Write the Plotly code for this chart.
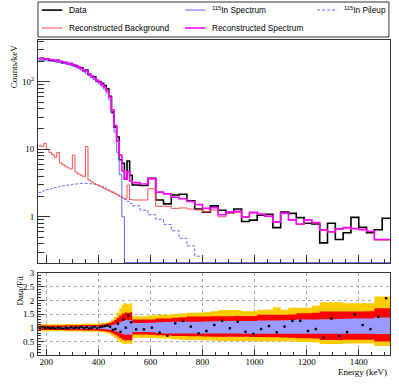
import plotly.graph_objects as go

# bin edges (keV): 10 keV bins below 530, 30 keV bins above
EDGES = [170, 180, 190, 200, 210, 220, 230, 240, 250, 260, 270, 280, 290, 300, 310,
         320, 330, 340, 350, 360, 370, 380, 390, 400, 410, 420, 430, 440, 450, 460,
         470, 480, 490, 500, 510, 520, 530,
         560, 590, 620, 650, 680, 710, 740, 770, 800, 830, 860, 890, 920, 950, 980,
         1010, 1040, 1070, 1100, 1130, 1160, 1190, 1220, 1250, 1280, 1310, 1340, 1370,
         1400, 1430, 1460, 1490, 1520]

DATA = [222, 224, 218, 218, 210, 211, 202, 209, 197, 190, 193, 184, 187, 179, 174,
        165, 162, 145, 149, 127, 122, 119, 103, 101, 95, 88, 79, 61, 35.5, 21.3,
        15.2, 7.0, 6.2, 3.64, 6.7, 4.1,
        2.95, 2.9, 3.7, 1.77, 1.55, 2.1, 2.15, 1.72, 1.3, 1.17, 1.45, 1.25, 1.15, 1.3,
        0.85, 0.89, 1.05, 1.09, 0.69, 1.17, 1.12, 0.97, 0.8, 0.78, 0.41, 0.8, 0.46,
        0.58, 0.98, 0.7, 0.58, 0.64, 0.95]

SPECTRUM = [208, 207, 205, 204, 202, 200, 198, 195, 192, 189, 185, 180, 175, 170, 164,
            158, 150, 141, 132, 124, 116, 108, 100, 93, 86, 78, 68, 54, 34, 18,
            9, 4.2, 1.0, 0, 0, 0,
            0, 0, 0, 0, 0, 0, 0, 0, 0, 0, 0, 0, 0, 0, 0, 0, 0, 0, 0, 0, 0, 0, 0, 0,
            0, 0, 0, 0, 0, 0, 0, 0, 0]

PILEUP = [2.3, 2.38, 2.45, 2.52, 2.58, 2.64, 2.7, 2.76, 2.81, 2.86, 2.9, 2.95, 2.99,
          3.03, 3.06, 3.09, 3.11, 3.12, 3.12, 3.1, 3.07, 3.03, 2.97, 2.9, 2.8, 2.68,
          2.56, 2.44, 2.33, 2.22, 2.11, 2.0, 1.89, 1.79, 1.69, 1.59,
          1.45, 1.25, 1.07, 0.92, 0.77, 0.62, 0.48, 0.37, 0.26, 0.15, 0.1, 0.07, 0.05,
          0.04, 0.03, 0.02, 0.02, 0.01, 0.01, 0.01, 0.01, 0.01, 0.01, 0.01, 0.01,
          0.01, 0.01, 0.01, 0.01, 0.01, 0.01, 0.01, 0.01]

BACKGROUND = [11.3, 11.0, 12.2, 10.0, 9.0, 8.3, 7.6, 9.0, 6.3, 5.9, 5.6, 5.3, 5.1,
              8.2, 4.6, 4.3, 4.1, 3.9, 11.0, 3.5, 3.3, 3.1, 3.0, 2.85, 2.75, 2.6,
              2.5, 2.4, 2.3, 2.2, 2.1, 2.0, 1.9, 1.85, 2.95, 1.8,
              1.77, 1.77, 2.6, 1.43, 1.43, 1.33, 1.35, 1.3, 1.26, 1.18, 1.26, 1.0,
              1.13, 1.16, 0.97, 1.14, 1.08, 1.01, 0.83, 1.12, 0.89, 0.77, 0.89, 0.81,
              0.63, 0.59, 0.65, 0.68, 0.66, 0.64, 0.6, 0.45, 0.45]

TOTAL = [222, 220, 220, 216, 214, 211, 208, 207, 201, 198, 193, 188, 183, 181, 172,
         165, 157, 148, 146, 131, 122, 114, 106, 99, 91.5, 83, 73, 59, 38.6, 22.4,
         13.2, 8.2, 4.8, 3.64, 4.64, 3.4,
         3.2, 3.05, 3.67, 2.32, 2.18, 1.95, 1.85, 1.68, 1.52, 1.33, 1.36, 1.07, 1.18,
         1.2, 1.0, 1.16, 1.1, 1.02, 0.84, 1.13, 0.9, 0.78, 0.9, 0.82, 0.64, 0.6,
         0.66, 0.69, 0.67, 0.65, 0.61, 0.46, 0.46]

RATIO = [1.0, 1.02, 0.99, 1.01, 0.98, 1.0, 0.97, 1.01, 0.98, 0.96, 1.0, 0.98, 1.02,
         0.99, 1.01, 1.0, 1.03, 0.98, 1.02, 0.97, 1.0, 1.04, 0.97, 1.02, 1.04, 1.06,
         1.08, 1.03, 0.92, 0.95, 1.15, 0.85, 1.3, 1.0, 1.45, 1.2,
         0.94, 0.94, 1.0, 0.82, 0.71, 1.16, 1.25, 1.04, 0.79, 0.88, 1.1, 1.25, 0.98,
         1.22, 0.85, 0.77, 0.95, 1.06, 0.83, 1.04, 1.25, 1.25, 0.88, 0.95, 0.64,
         1.34, 0.7, 0.84, 1.49, 1.1, 0.95, 1.4, 2.08]

# uncertainty bands on Data/Fit (outer yellow, red, inner blue)
YEL_HI = [1.13, 1.13, 1.13, 1.13, 1.13, 1.13, 1.13, 1.13, 1.13, 1.13, 1.14, 1.14,
          1.14, 1.14, 1.14, 1.14, 1.14, 1.15, 1.15, 1.15, 1.15, 1.15, 1.15,
          1.16, 1.17, 1.18, 1.2, 1.24, 1.3, 1.4, 1.55, 1.7, 1.85, 1.9, 1.85, 1.9,
          1.42, 1.42, 1.45, 1.47, 1.47, 1.5, 1.52, 1.55, 1.55, 1.57, 1.6, 1.65, 1.65,
          1.65, 1.6, 1.6, 1.66, 1.66, 1.75, 1.66, 1.73, 1.73, 1.73, 1.8, 1.93, 1.93,
          1.93, 1.9, 1.9, 1.9, 1.9, 2.14, 2.14]
YEL_LO = [0.87, 0.87, 0.87, 0.87, 0.87, 0.87, 0.87, 0.87, 0.87, 0.87, 0.86, 0.86,
          0.86, 0.86, 0.86, 0.86, 0.86, 0.85, 0.85, 0.85, 0.85, 0.85, 0.85,
          0.84, 0.83, 0.82, 0.8, 0.76, 0.7, 0.62, 0.54, 0.47, 0.42, 0.4, 0.43, 0.4,
          0.63, 0.63, 0.62, 0.61, 0.6, 0.58, 0.56, 0.55, 0.55, 0.54, 0.53, 0.51, 0.51,
          0.51, 0.51, 0.5, 0.5, 0.5, 0.5, 0.49, 0.49, 0.48, 0.48, 0.46, 0.4, 0.4,
          0.4, 0.42, 0.42, 0.42, 0.42, 0.33, 0.33]
RED_HI = [1.08, 1.08, 1.08, 1.08, 1.08, 1.08, 1.08, 1.08, 1.08, 1.08, 1.09, 1.09,
          1.09, 1.09, 1.09, 1.09, 1.09, 1.1, 1.1, 1.1, 1.1, 1.1, 1.1,
          1.11, 1.12, 1.13, 1.15, 1.18, 1.22, 1.28, 1.36, 1.45, 1.52, 1.56, 1.54, 1.57,
          1.3, 1.3, 1.3, 1.34, 1.34, 1.36, 1.38, 1.41, 1.41, 1.41, 1.42, 1.42, 1.42,
          1.43, 1.43, 1.43, 1.47, 1.47, 1.47, 1.47, 1.48, 1.53, 1.53, 1.55, 1.59,
          1.59, 1.59, 1.59, 1.59, 1.59, 1.6, 1.71, 1.71]
RED_LO = [0.92, 0.92, 0.92, 0.92, 0.92, 0.92, 0.92, 0.92, 0.92, 0.92, 0.91, 0.91,
          0.91, 0.91, 0.91, 0.91, 0.91, 0.9, 0.9, 0.9, 0.9, 0.9, 0.9,
          0.89, 0.88, 0.87, 0.85, 0.83, 0.79, 0.74, 0.68, 0.62, 0.56, 0.53, 0.55, 0.53,
          0.75, 0.75, 0.74, 0.72, 0.71, 0.7, 0.7, 0.69, 0.69, 0.68, 0.67, 0.67, 0.67,
          0.67, 0.67, 0.66, 0.66, 0.65, 0.65, 0.64, 0.63, 0.61, 0.61, 0.6, 0.55,
          0.55, 0.55, 0.56, 0.56, 0.56, 0.56, 0.49, 0.49]
BLU_HI = [1.03, 1.03, 1.03, 1.03, 1.03, 1.03, 1.03, 1.03, 1.03, 1.03, 1.04, 1.04,
          1.04, 1.04, 1.04, 1.04, 1.04, 1.04, 1.04, 1.04, 1.04, 1.04, 1.04,
          1.05, 1.05, 1.06, 1.07, 1.08, 1.1, 1.13, 1.17, 1.21, 1.25, 1.28, 1.27, 1.28,
          1.17, 1.17, 1.18, 1.2, 1.21, 1.22, 1.22, 1.22, 1.22, 1.23, 1.24, 1.25, 1.25,
          1.25, 1.25, 1.25, 1.26, 1.26, 1.26, 1.27, 1.28, 1.3, 1.3, 1.3, 1.31, 1.31,
          1.32, 1.33, 1.34, 1.34, 1.34, 1.37, 1.37]
BLU_LO = [0.97, 0.97, 0.97, 0.97, 0.97, 0.97, 0.97, 0.97, 0.97, 0.97, 0.96, 0.96,
          0.96, 0.96, 0.96, 0.96, 0.96, 0.96, 0.96, 0.96, 0.96, 0.96, 0.96,
          0.95, 0.95, 0.94, 0.93, 0.92, 0.9, 0.87, 0.84, 0.8, 0.76, 0.74, 0.75, 0.74,
          0.84, 0.84, 0.83, 0.8, 0.79, 0.79, 0.79, 0.79, 0.79, 0.79, 0.79, 0.79, 0.79,
          0.79, 0.78, 0.78, 0.78, 0.78, 0.78, 0.78, 0.78, 0.78, 0.78, 0.78, 0.78,
          0.78, 0.78, 0.78, 0.78, 0.78, 0.78, 0.77, 0.77]

LOG_RANGE = [-0.686, 2.62]
SERIF = "Liberation Serif, Times New Roman, serif"
SANS = "Liberation Sans, Arial, sans-serif"
BLUE = "rgb(100,100,255)"
PINK = "rgb(255,80,80)"


def steps(vals):
    # histogram outline for line_shape='hv'
    return EDGES, list(vals) + [vals[-1]]


fig = go.Figure()

# ---- top panel: spectra ----
floor = 10 ** (LOG_RANGE[0] + 0.006)
top = [
    ("Data", DATA, "black", 1.6, "solid"),
    ("<sup>115</sup>In Spectrum", [max(v, floor) for v in SPECTRUM], BLUE, 1, "solid"),
    ("<sup>115</sup>In Pileup", PILEUP, BLUE, 1, "3px,2px"),
    ("Reconstructed Background", BACKGROUND, PINK, 1, "solid"),
    ("Reconstructed Spectrum", TOTAL, "magenta", 1.6, "solid"),
]
for name, vals, color, width, dash in top:
    x, y = steps(vals)
    fig.add_trace(go.Scatter(x=x, y=y, mode="lines", name=name, line_shape="hv",
                             line=dict(color=color, width=width, dash=dash),
                             showlegend=False, xaxis="x", yaxis="y"))

# ---- bottom panel: Data/Fit with bands ----
bands = [(YEL_LO, YEL_HI, "rgb(255,204,0)"),
         (RED_LO, RED_HI, "rgb(255,0,0)"),
         (BLU_LO, BLU_HI, "rgb(153,153,255)")]
for lo, hi, color in bands:
    x, y = steps(lo)
    fig.add_trace(go.Scatter(x=x, y=y, mode="lines", line_shape="hv", line=dict(width=0),
                             showlegend=False, xaxis="x2", yaxis="y2", hoverinfo="skip"))
    x, y = steps(hi)
    fig.add_trace(go.Scatter(x=x, y=y, mode="lines", line_shape="hv", line=dict(width=0),
                             fill="tonexty", fillcolor=color, showlegend=False,
                             xaxis="x2", yaxis="y2", hoverinfo="skip"))

centers = [(EDGES[i] + EDGES[i + 1]) / 2 for i in range(len(RATIO))]
fig.add_trace(go.Scatter(x=centers, y=RATIO, mode="markers", showlegend=False,
                         marker=dict(symbol="square", size=2.4, color="black"),
                         xaxis="x2", yaxis="y2"))

# ---- ROOT-style legend box drawn in the top margin ----
legend_rows = [
    [("Data", "black", 1.6, "solid"),
     ("<sup>115</sup>In Spectrum", BLUE, 1, "solid"),
     ("<sup>115</sup>In Pileup", BLUE, 1, "3px,2px")],
    [("Reconstructed Background", PINK, 1, "solid"),
     ("Reconstructed Spectrum", "magenta", 1.6, "solid")],
]
col_x = [0.011, 0.418, 0.793]
row_y = [1.095, 1.038]
shapes = [dict(type="rect", xref="paper", yref="paper", x0=0, x1=0.997, y0=1.0095,
               y1=1.1206, line=dict(color="#333", width=1), fillcolor="white")]
annotations = []
for r, row in enumerate(legend_rows):
    for c, (label, color, width, dash) in enumerate(row):
        shapes.append(dict(type="line", xref="paper", yref="paper",
                           x0=col_x[c], x1=col_x[c] + 0.058, y0=row_y[r], y1=row_y[r],
                           line=dict(color=color, width=width, dash=dash)))
        annotations.append(dict(text=label, x=col_x[c] + 0.07, y=row_y[r],
                                xref="paper", yref="paper", showarrow=False,
                                xanchor="left", yanchor="middle",
                                font=dict(family=SANS, size=8.3)))

annotations += [
    dict(text="Counts/keV", textangle=-90, x=-0.068, y=0.917, xref="paper",
         yref="paper", showarrow=False, xanchor="center", yanchor="middle"),
    dict(text="Data/Fit", textangle=-90, x=-0.05, y=0.206, xref="paper",
         yref="paper", showarrow=False, xanchor="center", yanchor="middle"),
    dict(text="Energy (keV)", x=0.997, y=-0.053, xref="paper", yref="paper",
         showarrow=False, xanchor="right", yanchor="middle"),
]

minor_log = [m * d for d in (0.1, 1, 10) for m in range(2, 10)] + [200, 300, 400]
frame = dict(showline=True, linecolor="#333", linewidth=1, mirror=True,
             tickcolor="#333", ticks="inside", zeroline=False)

fig.update_layout(
    width=399, height=389,
    margin=dict(l=38, r=9, t=40, b=34),
    paper_bgcolor="white", plot_bgcolor="white",
    font=dict(family=SERIF, size=9, color="black"),
    showlegend=False,
    shapes=shapes,
    annotations=annotations,
    xaxis=dict(domain=[0, 1], anchor="y", range=[168, 1520], dtick=200, tick0=0,
               ticklen=8, showticklabels=False, showgrid=False,
               minor=dict(dtick=50, tick0=0, ticklen=4, ticks="inside"), **frame),
    yaxis=dict(domain=[0.292, 1], anchor="x", type="log", range=LOG_RANGE,
               tickvals=[1, 10, 100], ticktext=["1", "10", "10<sup>2</sup>"],
               ticklen=12, showgrid=False, ticklabelstandoff=1,
               minor=dict(tickvals=minor_log, ticklen=6, ticks="inside"), **frame),
    xaxis2=dict(domain=[0, 1], anchor="y2", range=[168, 1520], dtick=200, tick0=0,
                ticklen=6, showgrid=True, gridcolor="#aaa", griddash="dot", gridwidth=1,
                ticklabelstandoff=-2,
                minor=dict(dtick=50, tick0=0, ticklen=3, ticks="inside"), **frame),
    yaxis2=dict(domain=[0, 0.26], anchor="x2", range=[0, 3], dtick=0.5, tick0=0,
                ticklen=6, showgrid=True, gridcolor="#aaa", griddash="dot", gridwidth=1,
                ticklabelstandoff=1,
                minor=dict(dtick=0.1, tick0=0, ticklen=3, ticks="inside"), **frame),
)

# drop the browser's default 8px page margin so the figure sits at the corner
fig.write_html("out.html", config=dict(displayModeBar=False),
               post_script="document.body.style.margin = '0';")
